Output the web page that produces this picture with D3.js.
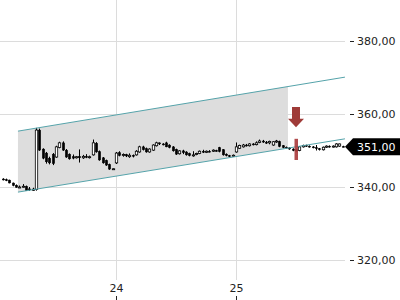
<!doctype html>
<html lang="de">
<head>
<meta charset="utf-8">
<title>Kursverlauf</title>
<style>
  body { margin: 0; background: #fff; }
  svg { display: block; font-family: "DejaVu Sans", sans-serif; }
</style>
</head>
<body>
<div id="chart"></div>
<script src="https://cdn.jsdelivr.net/npm/d3@7"></script>
<script>
// candles, one every 1/36 day; index 34 opens day 24
const opens = [342.2,342.0,341.9,341.1,340.5,339.9,340.1,340.2,339.5,339.1,
  339.3,355.6,350.4,349.3,347.9,349.0,348.2,350.8,352.1,350.1,
  349.0,348.3,348.0,348.4,348.0,348.4,348.1,348.8,352.0,349.7,
  348.0,347.3,346.2,344.9,346.6,349.4,348.7,348.9,348.3,348.7,
  348.8,349.6,351.0,350.5,349.6,350.1,351.3,352.1,351.8,352.1,
  351.5,351.0,350.3,349.1,349.9,349.6,349.2,348.6,348.9,349.2,
  349.8,349.5,349.8,349.8,350.0,350.8,350.2,349.0,348.6,348.5,
  349.6,350.6,351.0,351.5,351.3,351.8,351.6,352.2,352.6,352.3,
  352.1,351.5,352.4,352.5,351.3,350.9,350.7,350.4,350.0,350.0,
  351.0,351.4,351.2,351.0,350.8,350.5,350.2,350.9,351.2,351.0,
  351.0,351.2,351.1];
const highs = [342.4,342.3,342.0,341.2,340.7,340.4,340.8,340.4,340.0,339.8,
  356.2,356.0,350.6,349.6,348.3,349.3,351.3,352.4,352.5,350.4,
  349.2,348.9,348.5,350.3,348.8,349.0,348.6,353.0,352.3,350.0,
  348.2,347.5,346.4,345.1,349.6,349.8,349.2,349.1,349.2,348.9,
  350.1,351.3,351.3,350.8,350.6,351.7,352.4,352.2,352.0,352.4,
  351.7,351.2,350.5,350.1,350.2,349.8,349.4,349.8,349.4,350.0,
  350.2,350.0,350.1,350.3,350.2,351.0,350.4,349.2,348.8,348.9,
  352.2,351.6,351.8,351.8,352.0,352.0,352.5,353.0,352.9,352.6,
  352.7,352.6,352.9,352.7,351.5,351.1,350.9,350.6,350.5,351.2,
  351.6,351.6,351.4,351.2,351.5,350.7,351.1,351.4,351.4,351.4,
  352.0,351.9,351.3];
const lows = [341.8,341.6,341.0,340.2,339.8,339.7,339.8,338.9,338.9,338.9,
  339.0,349.9,347.6,346.4,346.2,346.0,348.0,350.6,349.9,348.0,
  347.5,347.6,347.8,346.7,347.7,347.9,347.8,348.6,349.4,347.2,
  346.4,345.8,344.7,344.7,346.3,348.4,348.3,348.2,348.0,348.1,
  348.6,349.4,350.0,349.4,349.4,349.9,351.1,351.5,351.4,350.9,
  350.6,349.7,348.8,348.9,349.0,348.6,348.4,348.3,348.7,349.0,
  349.3,349.3,349.5,349.6,349.7,349.5,348.6,348.4,348.2,348.3,
  349.4,350.4,350.8,351.1,351.1,351.4,351.4,352.0,352.1,351.8,
  351.7,351.3,352.1,350.9,350.6,350.5,350.2,349.8,349.7,349.8,
  350.8,351.0,350.8,350.6,350.0,350.0,350.0,350.7,350.8,350.8,
  350.8,351.0,350.9];
const closes = [342.0,341.8,341.1,340.4,339.9,340.0,340.2,339.0,339.2,339.4,
  355.6,350.1,347.9,346.9,346.6,346.4,351.0,352.1,350.1,348.2,
  347.7,347.9,348.3,348.0,348.4,348.1,348.3,352.1,349.6,347.4,
  346.6,346.0,344.9,345.0,349.3,348.6,348.9,348.5,348.7,348.4,
  349.8,351.0,350.2,349.6,350.4,351.5,352.1,351.8,351.6,351.0,
  350.8,349.9,349.0,349.9,349.4,348.8,348.6,348.8,349.2,349.8,
  349.5,349.8,349.7,350.1,349.9,349.7,348.8,348.6,348.4,348.7,
  351.0,351.4,351.5,351.3,351.8,351.6,352.1,352.6,352.3,352.0,
  352.5,352.4,352.6,351.1,350.8,350.7,350.4,350.0,350.2,351.0,
  351.4,351.2,351.0,350.8,350.5,350.2,350.9,351.2,351.0,351.2,
  351.8,351.8,351.0];

const dayTicks = [24, 25];
const priceTicks = [320, 340, 360, 380];
const lastPrice = 351.0;

// trend channel (start / end in days and prices), shaded up to shadeEnd
const channelT = [23.183, 25.908];
const channelUpper = [355.3, 370.1];
const channelLower = [338.6, 353.2];
const shadeEnd = 25.433;

// signal marker: candle index, arrow price span, bar price span
const signalIndex = 88;
const arrowPrices = [361.9, 356.4];
const barPrices = [353.2, 347.4];

const W = 400, H = 300, plotRight = 345, plotBottom = 280;
const fmt = v => d3.format(".2f")(v).replace(".", ",");
const tOf = i => 24 + (i - 34) / 36;

const x = d3.scaleLinear().domain([24, 25]).range([116, 236]);
const y = d3.scaleLinear().domain([320, 380]).range([260, 41]);

const candles = closes.map((c, i) => ({ t: tOf(i), o: opens[i], h: highs[i], l: lows[i], c }));

const svg = d3.select("#chart").append("svg").attr("width", W).attr("height", H);

// grid
svg.append("g").selectAll("line").data(priceTicks).join("line")
  .attr("x1", 0).attr("x2", plotRight)
  .attr("y1", d => Math.round(y(d)) + 0.5).attr("y2", d => Math.round(y(d)) + 0.5)
  .attr("stroke", "#dcdcdc");
svg.append("g").selectAll("line").data(dayTicks).join("line")
  .attr("x1", d => Math.round(x(d)) + 0.5).attr("x2", d => Math.round(x(d)) + 0.5)
  .attr("y1", 0).attr("y2", plotBottom)
  .attr("stroke", "#dcdcdc");

// shaded channel
const lerp = (a, b, t) => a[0] + (a[1] - a[0]) * (t - b[0]) / (b[1] - b[0]);
svg.append("path")
  .attr("d", d3.line()([
    [x(channelT[0]), y(channelUpper[0])],
    [x(shadeEnd), y(lerp(channelUpper, channelT, shadeEnd))],
    [x(shadeEnd), y(lerp(channelLower, channelT, shadeEnd))],
    [x(channelT[0]), y(channelLower[0])]
  ]) + "Z")
  .attr("fill", "#dddddd");

// candles
const bw = 2.4;
const cg = svg.append("g");
candles.forEach(d => {
  const cx = Math.round(x(d.t)) + 0.5;
  cg.append("line").attr("x1", cx).attr("x2", cx)
    .attr("y1", y(d.h)).attr("y2", y(d.l)).attr("stroke", "#000").attr("stroke-width", 1);
  const top = y(Math.max(d.o, d.c)), bot = y(Math.min(d.o, d.c));
  const up = d.c > d.o;
  cg.append("rect")
    .attr("x", cx - bw / 2).attr("width", bw)
    .attr("y", top).attr("height", Math.max(1, bot - top))
    .attr("fill", up ? "#fff" : "#000")
    .attr("stroke", "#000").attr("stroke-width", up ? 0.8 : 0.4);
});

// channel lines
[channelUpper, channelLower].forEach(p => {
  svg.append("line")
    .attr("x1", x(channelT[0])).attr("y1", y(p[0]))
    .attr("x2", x(channelT[1])).attr("y2", y(p[1]))
    .attr("stroke", "#55a3aa").attr("stroke-width", 1);
});

// signal marker
const sx = x(tOf(signalIndex));
svg.append("rect")
  .attr("x", sx - 1.5).attr("width", 3.5)
  .attr("y", y(barPrices[0])).attr("height", y(barPrices[1]) - y(barPrices[0]))
  .attr("fill", "#a8393a").attr("opacity", 0.9);
const aTop = y(arrowPrices[0]), aBot = y(arrowPrices[1]), aMid = aTop + (aBot - aTop) * 0.58;
svg.append("path")
  .attr("d", d3.line()([
    [sx - 4, aTop], [sx + 4, aTop], [sx + 4, aMid], [sx + 8, aMid],
    [sx, aBot], [sx - 8, aMid], [sx - 4, aMid]
  ]) + "Z")
  .attr("fill", "#9f3b38");

// y axis on the right
const yAxis = svg.append("g");
yAxis.selectAll("line").data(priceTicks).join("line")
  .attr("x1", 350).attr("x2", 354)
  .attr("y1", d => Math.round(y(d)) + 0.5).attr("y2", d => Math.round(y(d)) + 0.5)
  .attr("stroke", "#222");
yAxis.selectAll("text").data(priceTicks).join("text")
  .attr("x", 357).attr("y", d => y(d)).attr("dy", "0.36em")
  .attr("font-size", 11).attr("fill", "#222")
  .text(fmt);

// last price tag
const ly = y(lastPrice);
svg.append("path")
  .attr("d", d3.line()([[345, ly], [353, ly - 8.5], [400, ly - 8.5], [400, ly + 8.5], [353, ly + 8.5]]) + "Z")
  .attr("fill", "#000");
svg.append("text")
  .attr("x", 357).attr("y", ly).attr("dy", "0.36em")
  .attr("font-size", 11).attr("fill", "#fff")
  .text(fmt(lastPrice));

// x axis
const xAxis = svg.append("g");
xAxis.selectAll("text").data(dayTicks).join("text")
  .attr("x", d => x(d) + 0.5).attr("y", 288).attr("dy", "0.36em")
  .attr("text-anchor", "middle").attr("font-size", 11).attr("fill", "#222")
  .text(d => d);
xAxis.selectAll("line").data(dayTicks).join("line")
  .attr("x1", d => Math.round(x(d)) + 0.5).attr("x2", d => Math.round(x(d)) + 0.5)
  .attr("y1", 296).attr("y2", 300)
  .attr("stroke", "#222");
</script>
</body>
</html>
